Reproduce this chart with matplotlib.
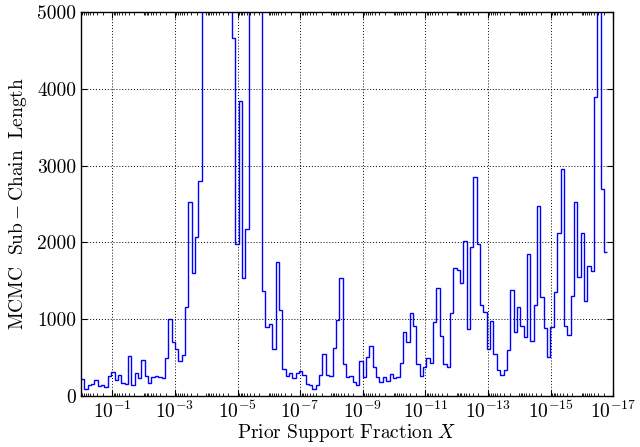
import numpy as np
import matplotlib
matplotlib.use("Agg")
import matplotlib.pyplot as plt
from matplotlib.ticker import FixedLocator, LogLocator, NullFormatter, LogFormatterMathtext

# ================= DATA ================= #
# bins are equal width in log10(X), from X = 1 down to X = 10^-16.82
LOG10_X_FIRST = 0.0
LOG10_X_LAST = -16.82

# sub-chain length per bin (bins above 5000 are clipped by the axis)
chain_length = [
    217, 90, 150, 160, 210, 130, 140, 115, 260, 310,
    210, 280, 170, 160, 520, 150, 300, 240, 470, 260,
    170, 250, 260, 250, 230, 500, 1000, 700, 610, 450,
    535, 1160, 2530, 1600, 2065, 2800, 6000, 6000, 6000, 6000,
    6000, 6000, 6000, 6000, 6000, 4660, 1975, 3845, 1540, 2180,
    6000, 6000, 6000, 6000, 1370, 900, 940, 610, 1750, 1120,
    350, 260, 300, 230, 300, 320, 275, 155, 145, 87,
    145, 273, 547, 273, 260, 621, 990, 1532, 417, 252,
    260, 187, 143, 456, 252, 512, 655, 382, 252, 187,
    243, 200, 282, 230, 252, 425, 838, 708, 1080, 911,
    417, 265, 382, 490, 434, 970, 1402, 781, 417, 380,
    1080, 1662, 1640, 1478, 2022, 868, 1936, 2856, 1985, 1185,
    1098, 612, 980, 545, 335, 273, 339, 599, 1380, 833,
    1163, 916, 764, 1849, 716, 1185, 2478, 1285, 881, 504,
    902, 1358, 2118, 2951, 916, 790, 1297, 2522, 1553, 2128,
    1232, 1697, 1631, 3890, 6000, 2700, 1880,
]

x_tick_exponents = [-1, -3, -5, -7, -9, -11, -13, -15, -17]
y_ticks = [0, 1000, 2000, 3000, 4000, 5000]

# ================= STYLE ================= #
plt.rcParams["font.family"] = "serif"
plt.rcParams["font.serif"] = ["cmr10", "DejaVu Serif"]
plt.rcParams["mathtext.fontset"] = "cm"
plt.rcParams["axes.formatter.use_mathtext"] = True
plt.rcParams["font.size"] = 14

# ================= PLOT ================= #
edges = np.logspace(LOG10_X_FIRST, LOG10_X_LAST, len(chain_length) + 1)

fig = plt.figure(figsize=(6.4, 4.47), dpi=100)
ax = fig.add_axes([0.1266, 0.114, 0.8314, 0.859])

ax.stairs(chain_length, edges, baseline=None, color="#0000ff", linewidth=1.0)

ax.set_xscale("log")
ax.set_xlim(1.0, 1e-17)
ax.set_ylim(0, 5000)

ax.xaxis.set_major_locator(FixedLocator([10.0 ** e for e in x_tick_exponents]))
ax.xaxis.set_major_formatter(LogFormatterMathtext())
ax.xaxis.set_minor_locator(LogLocator(base=10, subs=np.arange(1, 10), numticks=100))
ax.xaxis.set_minor_formatter(NullFormatter())
ax.set_yticks(y_ticks)
ax.set_yticklabels([str(v) for v in y_ticks])

ax.tick_params(which="both", direction="in", top=True, right=True, labelsize=14)
ax.tick_params(which="major", length=4, width=0.8)
ax.tick_params(which="minor", length=2, width=0.6)
ax.tick_params(axis="x", which="major", pad=3)

ax.grid(True, which="major", linestyle=(0, (1, 2)), color="black", linewidth=0.7)

ax.set_xlabel(r"$\mathrm{Prior\ Support\ Fraction}\ X$", fontsize=14, labelpad=0)
ax.set_ylabel(r"$\mathrm{MCMC\ \ Sub-Chain\ \ Length}$", fontsize=14, labelpad=6)

for s in ax.spines.values():
    s.set_linewidth(1.0)

fig.savefig("out.png", dpi=100)
